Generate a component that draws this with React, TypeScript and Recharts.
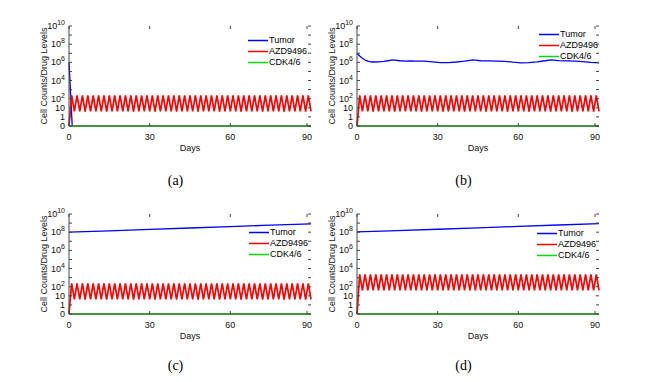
import { LineChart, Line, XAxis, YAxis, Legend } from 'recharts';

// y axis is log-like: 0 sits one decade below 1
const yTickValues = [-1, 0, 1, 2, 3, 4, 5, 6, 7, 8, 9, 10];
const yTickLabels = ['0', '1', '10', '10^2', '', '10^4', '', '10^6', '', '10^8', '', '10^10'];
const xTickValues = [0, 30, 60, 90];

const seriesNames = ['Tumor', 'AZD9496', 'CDK4/6'];
const seriesColors = ['#0000ff', '#ff0000', '#00dd00'];

// tumor cell counts
const tumorADays = [0, 1.2];
const tumorA = [1.0e6, 0];

const tumorBDays = [0, 1, 2, 3, 4, 5, 6, 8, 10, 12, 13, 14, 16, 18, 20, 22, 25, 28, 31, 34, 37, 40, 42, 43, 44, 46, 49, 52, 55, 58, 61, 64, 67, 70, 72, 73, 75, 78, 81, 84, 87, 90];
const tumorB = [
  1.0e7, 5.0e6, 2.8e6, 1.8e6, 1.35e6, 1.15e6, 1.1e6, 1.15e6, 1.3e6, 1.6e6,
  1.9e6, 1.8e6, 1.5e6, 1.4e6, 1.45e6, 1.4e6, 1.35e6, 1.15e6, 0.95e6, 0.95e6,
  1.1e6, 1.35e6, 1.7e6, 1.9e6, 1.75e6, 1.5e6, 1.45e6, 1.4e6, 1.3e6, 1.05e6,
  0.9e6, 0.95e6, 1.15e6, 1.5e6, 1.9e6, 1.8e6, 1.55e6, 1.45e6, 1.4e6, 1.2e6,
  1.0e6, 0.9e6,
];

const tumorCDays = [0, 15, 30, 45, 60, 75, 90];
const tumorC = [1.0e8, 1.4e8, 2.0e8, 2.9e8, 4.1e8, 5.9e8, 8.3e8];
const tumorDDays = [0, 15, 30, 45, 60, 75, 90];
const tumorD = [1.1e8, 1.5e8, 2.1e8, 3.0e8, 4.3e8, 6.2e8, 8.8e8];

// AZD9496 level, one value per day 0..90
const azdStandard = [
  0, 230, 4, 228, 4, 232, 3.9, 230, 4, 226,
  4.1, 231, 4, 229, 3.9, 233, 4, 228, 4.1, 230,
  4, 227, 4, 232, 3.9, 229, 4, 231, 4.1, 228,
  4, 230, 3.9, 233, 4, 227, 4.1, 230, 4, 229,
  3.9, 232, 4, 228, 4.1, 231, 4, 229, 3.9, 230,
  4, 226, 4.1, 232, 4, 229, 3.9, 231, 4, 228,
  4.1, 230, 4, 233, 3.9, 227, 4, 230, 4.1, 229,
  4, 232, 3.9, 228, 4, 231, 4.1, 229, 4, 230,
  3.9, 227, 4, 232, 4.1, 229, 4, 231, 3.9, 228,
  4,
];
const azdHigh = [
  0, 2300, 40, 2280, 40, 2320, 39, 2300, 40, 2260,
  41, 2310, 40, 2290, 39, 2330, 40, 2280, 41, 2300,
  40, 2270, 40, 2320, 39, 2290, 40, 2310, 41, 2280,
  40, 2300, 39, 2330, 40, 2270, 41, 2300, 40, 2290,
  39, 2320, 40, 2280, 41, 2310, 40, 2290, 39, 2300,
  40, 2260, 41, 2320, 40, 2290, 39, 2310, 40, 2280,
  41, 2300, 40, 2330, 39, 2270, 40, 2300, 41, 2290,
  40, 2320, 39, 2280, 40, 2310, 41, 2290, 40, 2300,
  39, 2270, 40, 2320, 41, 2290, 40, 2310, 39, 2280,
  40,
];

// CDK4/6 stays at zero
const cdkDays = [0, 90];
const cdk = [0, 0];

const FONT = '"Liberation Sans", Arial, sans-serif';
const AXIS = '#444';
const PLOT_W = 242;
const PLOT_H = 100;
const Y_AXIS_W = 69;
const M_TOP = 26;
const CHART_W = Y_AXIS_W + PLOT_W + 4;
const CHART_H = 191;

const toLog = (v: number) => (v <= 0 ? -1 : Math.log10(v));

function points(days: number[], values: number[]) {
  return days.map((d, i) => ({ day: d, level: toLog(values[i]) }));
}

function YTick(props: any) {
  const { y, payload } = props;
  const label = yTickLabels[yTickValues.indexOf(payload.value)];
  const [base, exp] = (label || '').split('^');
  return (
    <g>
      <line x1={Y_AXIS_W} x2={Y_AXIS_W + 3} y1={y} y2={y} stroke={AXIS} />
      <line x1={Y_AXIS_W + PLOT_W} x2={Y_AXIS_W + PLOT_W - 3} y1={y} y2={y} stroke={AXIS} />
      {label && (
        <text x={Y_AXIS_W - 4} y={y} textAnchor="end" dominantBaseline="central" fontSize={9} fontFamily={FONT} fill="#111">
          {base}
          {exp && (
            <tspan dy={-4} fontSize={7}>
              {exp}
            </tspan>
          )}
        </text>
      )}
    </g>
  );
}

function XTick(props: any) {
  const { x, payload } = props;
  const bottom = M_TOP + PLOT_H;
  return (
    <g>
      <line x1={x} x2={x} y1={bottom} y2={bottom - 3} stroke={AXIS} />
      <line x1={x} x2={x} y1={M_TOP} y2={M_TOP + 3} stroke={AXIS} />
      <text x={x} y={bottom + 10.5} textAnchor="middle" dominantBaseline="central" fontSize={9} fontFamily={FONT} fill="#111">
        {payload.value}
      </text>
    </g>
  );
}

function LegendBox({ payload }: any) {
  const items = [...(payload || [])].sort(
    (a: any, b: any) => seriesNames.indexOf(a.value) - seriesNames.indexOf(b.value)
  );
  return (
    <div style={{ fontFamily: FONT, fontSize: 9, color: '#000' }}>
      {items.map((p: any) => (
        <div key={p.value} style={{ display: 'flex', alignItems: 'center', height: 11, lineHeight: '11px' }}>
          <svg width={20} height={11} style={{ display: 'block' }}>
            <line x1={0} x2={20} y1={5.5} y2={5.5} stroke={p.color} strokeWidth={1.5} />
          </svg>
          <span style={{ marginLeft: 1 }}>{p.value}</span>
        </div>
      ))}
    </div>
  );
}

type PanelProps = {
  left: number;
  top: number;
  tumorDays: number[];
  tumor: number[];
  azd: number[];
  legendX: number;
  legendY: number;
  caption: string;
  captionY: number;
};

function Panel(p: PanelProps) {
  const azdDays = p.azd.map((_, i) => i);
  return (
    <div style={{ position: 'absolute', left: p.left, top: p.top, width: CHART_W, height: CHART_H }}>
      <LineChart width={CHART_W} height={CHART_H} margin={{ top: M_TOP, right: 4, bottom: 45, left: 0 }}>
        <XAxis
          type="number"
          dataKey="day"
          domain={[0, 90]}
          ticks={xTickValues}
          height={20}
          axisLine={{ stroke: AXIS }}
          tickLine={false}
          tickSize={0}
          tickMargin={0}
          tick={<XTick />}
        />
        <XAxis
          xAxisId="top"
          orientation="top"
          type="number"
          domain={[0, 90]}
          height={0}
          axisLine={{ stroke: AXIS }}
          tickLine={false}
          tick={false}
        />
        <YAxis
          type="number"
          dataKey="level"
          domain={[-1, 10]}
          ticks={yTickValues}
          width={Y_AXIS_W}
          axisLine={{ stroke: AXIS }}
          tickLine={false}
          tickSize={0}
          tickMargin={0}
          tick={<YTick />}
          interval={0}
        />
        <YAxis
          yAxisId="right"
          orientation="right"
          type="number"
          domain={[-1, 10]}
          width={0}
          axisLine={{ stroke: AXIS }}
          tickLine={false}
          tick={false}
        />
        <Line
          data={points(p.tumorDays, p.tumor)}
          dataKey="level"
          name={seriesNames[0]}
          stroke={seriesColors[0]}
          strokeWidth={1.3}
          dot={false}
          type="linear"
          isAnimationActive={false}
        />
        <Line
          data={points(azdDays, p.azd)}
          dataKey="level"
          name={seriesNames[1]}
          stroke={seriesColors[1]}
          strokeWidth={1.7}
          dot={false}
          type="linear"
          isAnimationActive={false}
        />
        <Line
          data={points(cdkDays, cdk)}
          dataKey="level"
          name={seriesNames[2]}
          stroke={seriesColors[2]}
          strokeWidth={1.6}
          dot={false}
          type="linear"
          isAnimationActive={false}
        />
        <Legend
          layout="horizontal"
          align="center"
          verticalAlign="middle"
          content={<LegendBox />}
          wrapperStyle={{ left: p.legendX, top: p.legendY, width: 80, height: 34 }}
        />
      </LineChart>
      <div
        style={{
          position: 'absolute',
          left: 44 - 70,
          top: 76 - 5,
          width: 140,
          height: 10,
          lineHeight: '10px',
          textAlign: 'center',
          fontFamily: FONT,
          fontSize: 9,
          color: '#111',
          transform: 'rotate(-90deg)',
          whiteSpace: 'nowrap',
        }}
      >
        Cell Counts/Drug Levels
      </div>
      <div
        style={{
          position: 'absolute',
          left: Y_AXIS_W + PLOT_W / 2 - 50,
          top: 148 - 5,
          width: 100,
          lineHeight: '10px',
          textAlign: 'center',
          fontFamily: FONT,
          fontSize: 9,
          color: '#111',
        }}
      >
        Days
      </div>
      <div
        style={{
          position: 'absolute',
          left: 175.5 - 30,
          top: p.captionY - 9,
          width: 60,
          lineHeight: '18px',
          textAlign: 'center',
          fontFamily: '"Liberation Serif", "Times New Roman", serif',
          fontSize: 14,
          color: '#000',
        }}
      >
        {p.caption}
      </div>
    </div>
  );
}

export default function App() {
  return (
    <div style={{ position: 'absolute', left: 0, top: 0, width: 646, height: 382, background: '#fff', overflow: 'hidden' }}>
      <Panel left={0} top={0} tumorDays={tumorADays} tumor={tumorA} azd={azdStandard} legendX={248} legendY={34.5} caption="(a)" captionY={181} />
      <Panel left={288} top={0} tumorDays={tumorBDays} tumor={tumorB} azd={azdStandard} legendX={251} legendY={28.5} caption="(b)" captionY={181} />
      <Panel left={0} top={188} tumorDays={tumorCDays} tumor={tumorC} azd={azdStandard} legendX={249} legendY={39.2} caption="(c)" captionY={178} />
      <Panel left={288} top={188} tumorDays={tumorDDays} tumor={tumorD} azd={azdHigh} legendX={249} legendY={40.2} caption="(d)" captionY={178} />
    </div>
  );
}
